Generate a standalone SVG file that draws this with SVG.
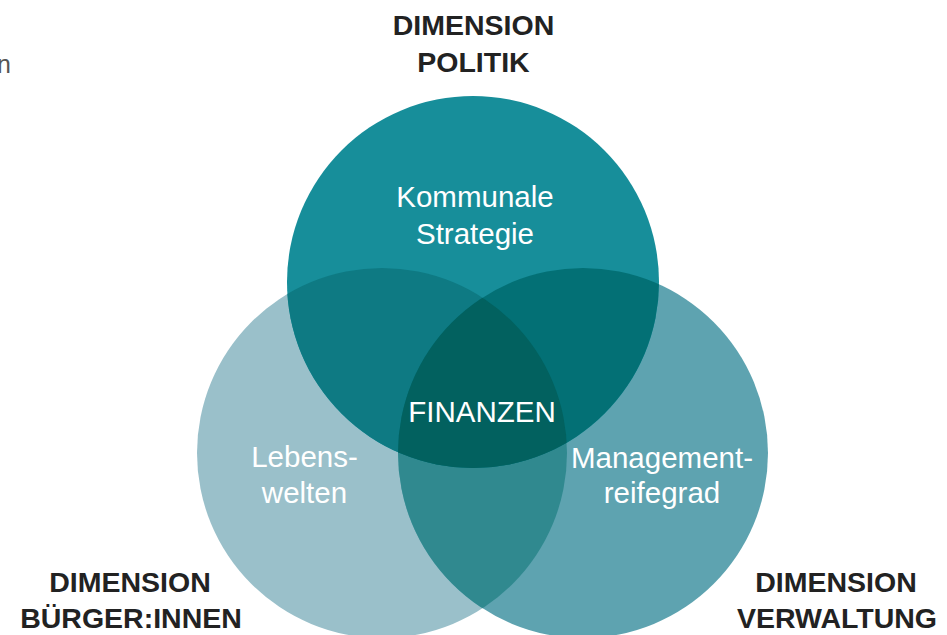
<svg xmlns="http://www.w3.org/2000/svg" width="947" height="635" viewBox="0 0 947 635">
<style>
.dim{font-family:"Liberation Sans",Arial,sans-serif;font-weight:bold;font-size:28.5px;fill:#222;text-anchor:middle}
.lbl{font-family:"Liberation Sans",Arial,sans-serif;font-size:29.5px;fill:#fff;text-anchor:middle}
</style>
<defs>
<clipPath id="cT"><circle cx="473" cy="282" r="186"/></clipPath>
<clipPath id="cL"><circle cx="382" cy="453" r="185"/></clipPath>
<clipPath id="cR"><circle cx="583" cy="453" r="185"/></clipPath>
</defs>
<rect width="947" height="635" fill="#fff"/>
<text x="-3" y="73" font-family="Liberation Sans,Arial,sans-serif" font-size="25" fill="#555">n</text>
<g id="circle-buerger"><circle cx="382" cy="453" r="185" fill="#9ac0ca"/></g>
<g id="circle-verwaltung"><circle cx="583" cy="453" r="185" fill="#5ea3b0"/></g>
<g id="circle-politik"><circle cx="473" cy="282" r="186" fill="#178e9a"/></g>
<g id="overlaps">
<circle cx="583" cy="453" r="185" fill="#30898f" clip-path="url(#cL)"/>
<circle cx="473" cy="282" r="186" fill="#0e7a83" clip-path="url(#cL)"/>
<circle cx="473" cy="282" r="186" fill="#037075" clip-path="url(#cR)"/>
<g clip-path="url(#cR)"><circle cx="473" cy="282" r="186" fill="#02615f" clip-path="url(#cL)"/></g>
</g>
<g id="labels">
<text class="lbl" x="475" y="207">Kommunale</text>
<text class="lbl" x="475" y="244">Strategie</text>
<text class="lbl" x="482" y="422" font-size="28.5">FINANZEN</text>
<text class="lbl" x="304.5" y="467">Lebens-</text>
<text class="lbl" x="304.5" y="503">welten</text>
<text class="lbl" x="662" y="468" font-size="28.3">Management-</text>
<text class="lbl" x="662" y="503" font-size="28.3">reifegrad</text>
</g>
<g id="dim-politik"><text class="dim" x="473.5" y="35">DIMENSION</text><text class="dim" x="473.5" y="72">POLITIK</text></g>
<g id="dim-buerger"><text class="dim" x="130" y="592">DIMENSION</text><text class="dim" x="131" y="628">BÜRGER:INNEN</text></g>
<g id="dim-verwaltung"><text class="dim" x="836" y="592">DIMENSION</text><text class="dim" x="837" y="628">VERWALTUNG</text></g>
</svg>
